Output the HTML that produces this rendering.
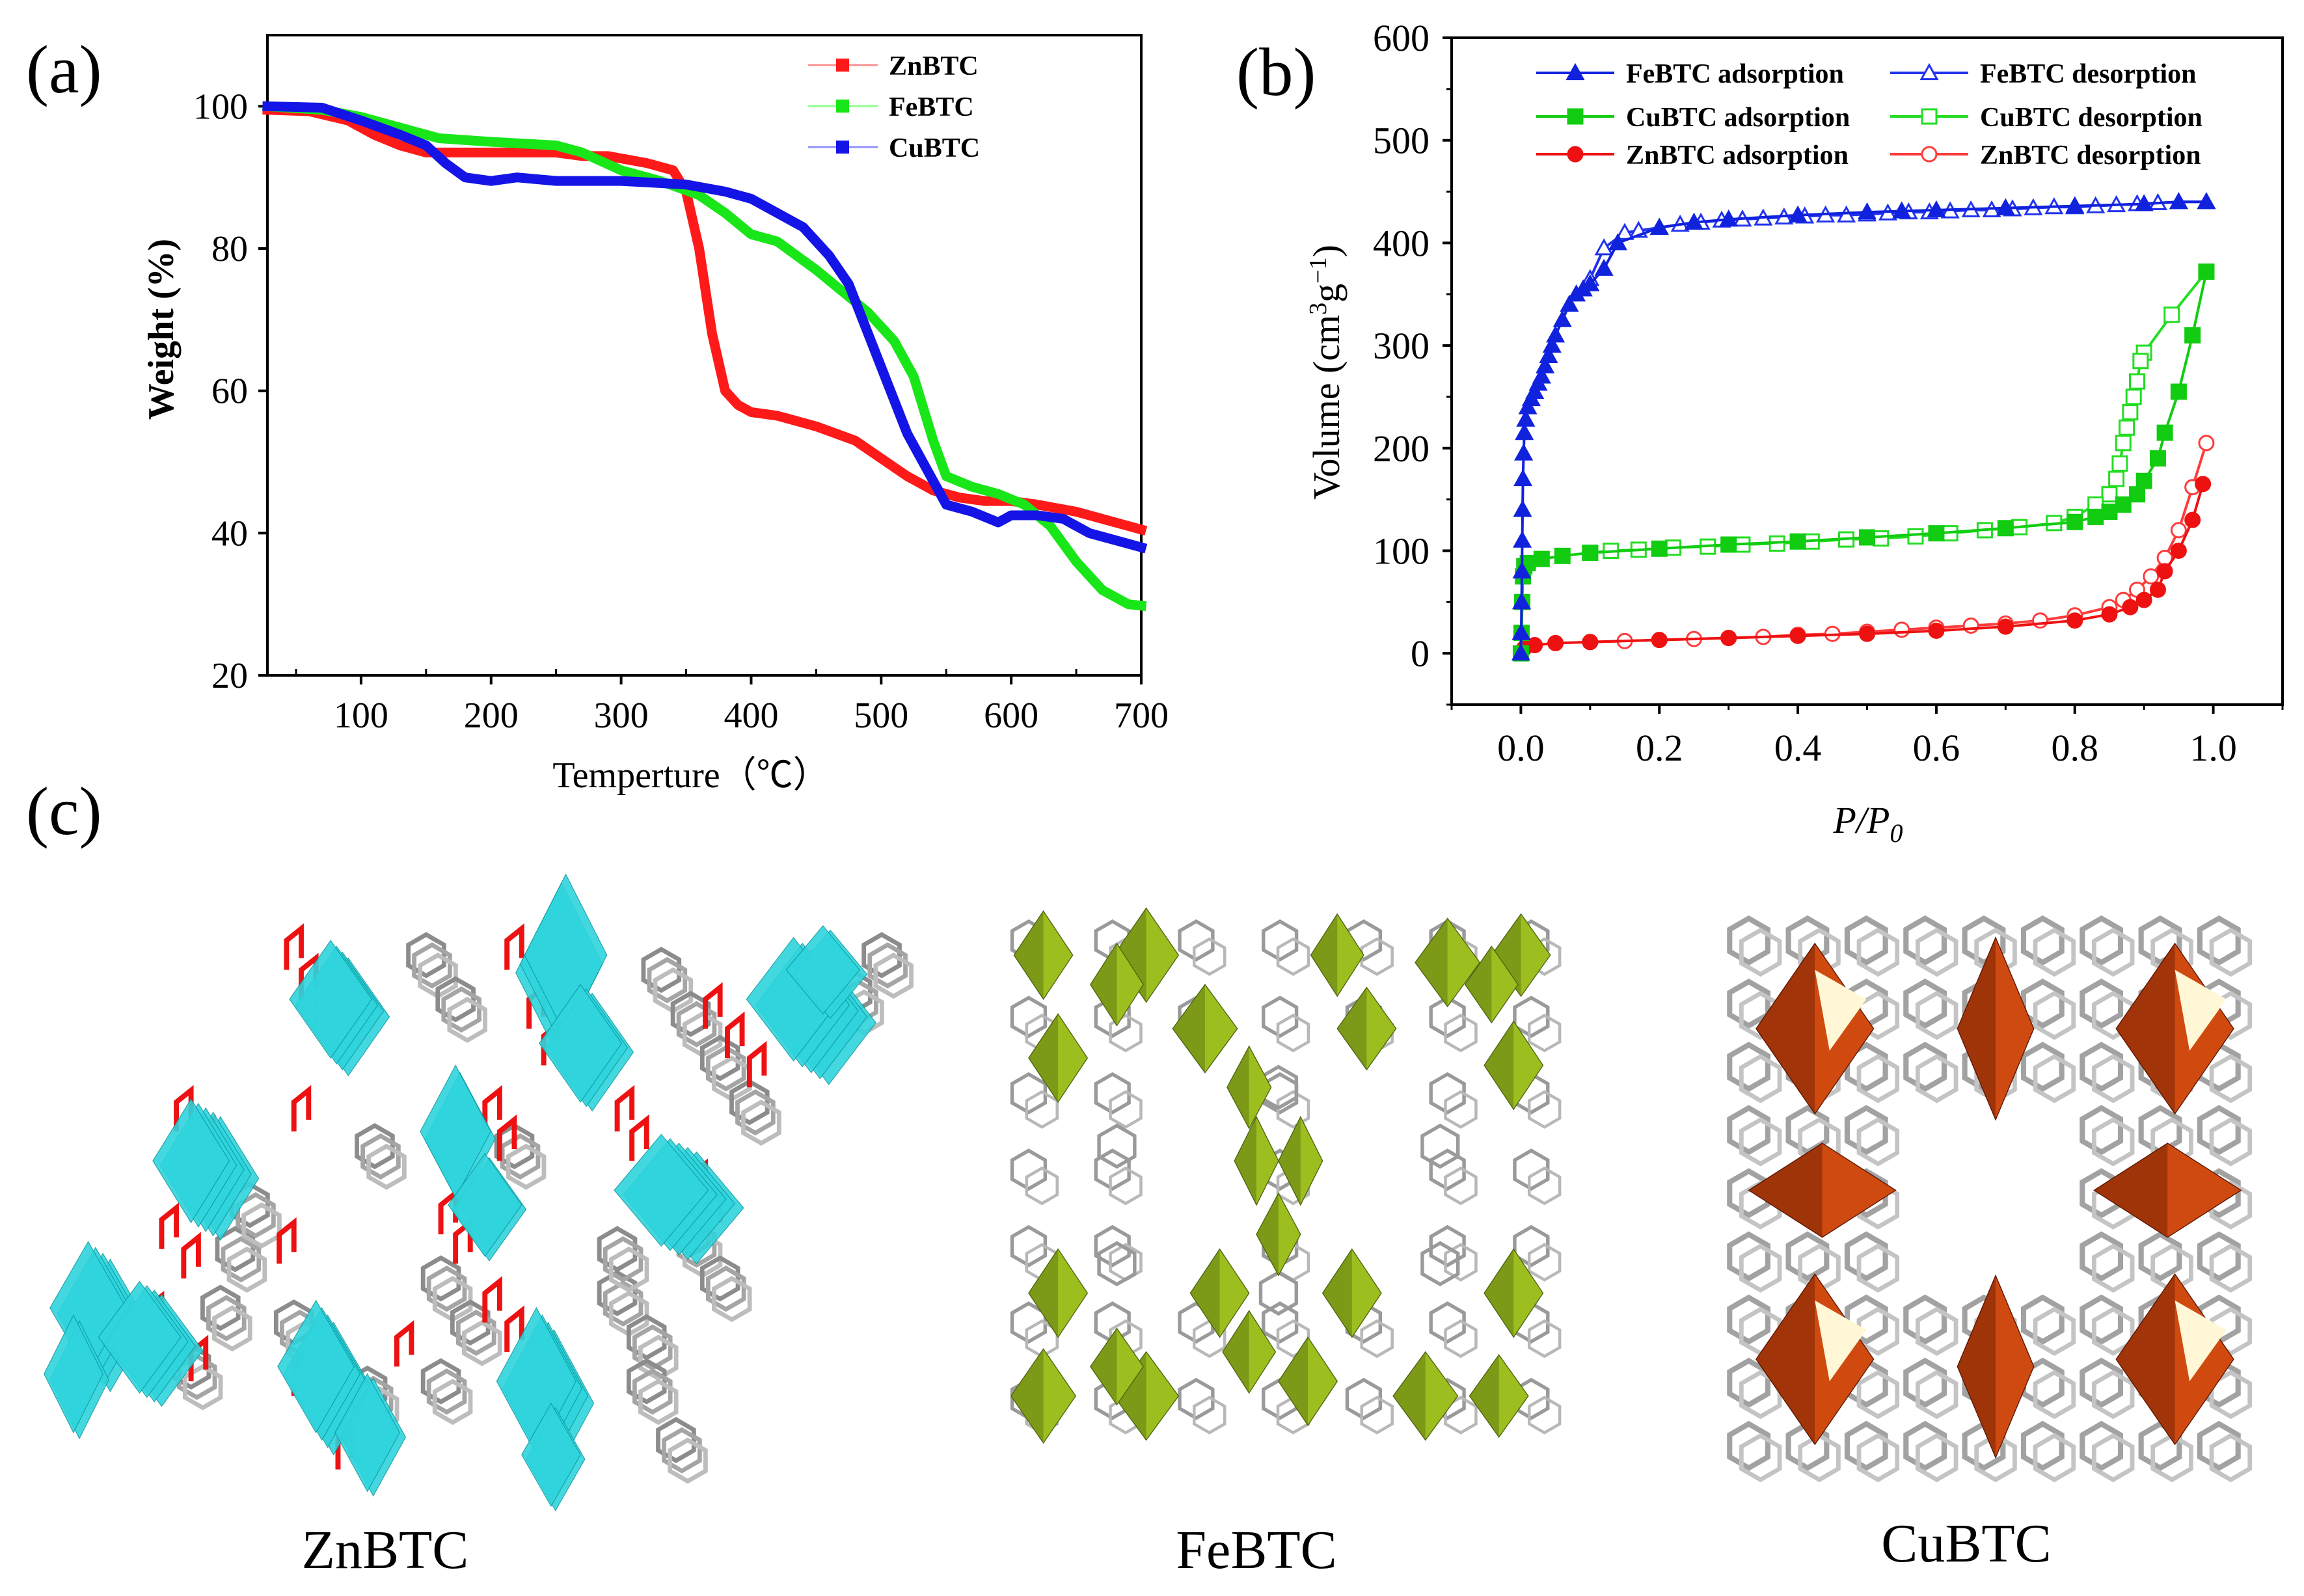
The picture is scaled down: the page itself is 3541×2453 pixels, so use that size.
<!DOCTYPE html>
<html><head><meta charset="utf-8">
<style>
html,body{margin:0;padding:0;background:#fff;}
svg{display:block;}
text{font-family:"Liberation Serif",serif;}
</style></head>
<body>
<svg id="fig" width="3541" height="2453" viewBox="0 0 3541 2453" xmlns="http://www.w3.org/2000/svg">
<rect width="3541" height="2453" fill="#fff"/>
<text x="40" y="142" font-size="105">(a)</text>
<text x="1900" y="146" font-size="105">(b)</text>
<text x="40" y="1282" font-size="105">(c)</text>
<g id="chartA"></g>
<g id="chartB"></g>
<g id="structs" transform="scale(2.2585)"></g>
<text x="592" y="2410" font-size="84" text-anchor="middle">ZnBTC</text>
<text x="1931" y="2410" font-size="84" text-anchor="middle">FeBTC</text>
<text x="3022" y="2400" font-size="84" text-anchor="middle">CuBTC</text>
</svg>
<script>
// ---------- Panel (a) data ----------
const znT = [28,60,90,110,130,150,170,200,250,270,290,320,340,350,360,370,380,390,400,420,450,480,500,520,540,560,580,600,620,650,680,700];
const znW = [99.5,99.3,98,96,94.5,93.5,93.5,93.5,93.5,93,93,92,91,88,80,68,60,58,57,56.5,55,53,50.5,48,46,45,44.5,44.5,44,43,41.5,40.5];
const feT = [28,70,100,130,160,200,250,270,300,330,360,380,400,420,450,470,490,510,525,540,550,570,590,610,630,650,670,690,700];
const feW = [100,99.5,98.5,97,95.5,95,94.5,93.5,91,89.5,87.5,85,82,81,77,74,71,67,62,53,48,46.5,45.5,44,41,36,32,30,29.8];
const cuT = [28,70,100,130,150,165,180,200,220,250,300,350,380,400,420,440,460,475,490,505,520,535,550,570,590,600,620,640,660,680,700];
const cuW = [100,99.8,98,96,94.5,92,90,89.5,90,89.5,89.5,89,88,87,85,83,79,75,68,61,54,49,44,43,41.5,42.5,42.5,42,40,39,38];
const aXTicks = [100,200,300,400,500,600,700];
const aYTicks = [20,40,60,80,100];
const aLegend = ["ZnBTC","FeBTC","CuBTC"];

// ---------- Panel (b) data ----------
const feAdsX = [0,0.0005,0.001,0.0015,0.002,0.0025,0.003,0.004,0.005,0.007,0.01,0.015,0.02,0.025,0.03,0.035,0.04,0.045,0.05,0.06,0.07,0.08,0.09,0.1,0.12,0.14,0.2,0.25,0.3,0.4,0.5,0.55,0.6,0.7,0.8,0.9,0.95,0.99];
const feAdsY = [0,20,50,80,110,140,170,195,215,228,240,248,255,263,270,280,290,300,310,325,340,350,355,360,375,400,415,420,423,427,430,431,432,434,436,438,440,440];
const feDesX = [0.99,0.95,0.92,0.89,0.86,0.83,0.8,0.77,0.74,0.71,0.68,0.65,0.62,0.59,0.56,0.53,0.5,0.47,0.44,0.41,0.38,0.35,0.32,0.29,0.26,0.23,0.2,0.17,0.15,0.12,0.1];
const feDesY = [440,440,439,438,437,436,435,435,434,433,432,432,431,430,430,429,428,427,427,426,425,424,423,422,420,418,415,412,410,395,365];
const cuAdsX = [0,0.001,0.002,0.003,0.005,0.01,0.03,0.06,0.1,0.2,0.3,0.4,0.5,0.6,0.7,0.8,0.83,0.85,0.87,0.89,0.9,0.92,0.93,0.95,0.97,0.99];
const cuAdsY = [0,20,50,75,85,88,92,95,98,102,106,109,113,117,122,128,133,138,145,155,168,190,215,255,310,372];
const cuDesX = [0.99,0.94,0.9,0.895,0.89,0.885,0.88,0.875,0.87,0.865,0.86,0.85,0.83,0.8,0.77,0.72,0.67,0.62,0.57,0.52,0.47,0.42,0.37,0.32,0.27,0.22,0.17,0.13,0.1];
const cuDesY = [372,330,293,285,265,250,235,220,205,185,170,155,145,133,127,123,120,117,114,112,111,109,107,106,104,103,101,100,98];
const znAdsX = [0,0.005,0.02,0.05,0.1,0.2,0.3,0.4,0.5,0.6,0.7,0.8,0.85,0.88,0.9,0.92,0.93,0.95,0.97,0.985];
const znAdsY = [0,5,8,10,11,13,15,17,19,22,26,32,38,45,52,62,80,100,130,165];
const znDesX = [0.99,0.97,0.95,0.93,0.91,0.89,0.87,0.85,0.8,0.75,0.7,0.65,0.6,0.55,0.5,0.45,0.4,0.35,0.3,0.25,0.2,0.15,0.1];
const znDesY = [205,162,120,93,75,62,52,45,37,32,29,27,25,23,21,19,18,16,15,14,13,12,11];
const bXTicks = [0.0,0.2,0.4,0.6,0.8,1.0];
const bYTicks = [0,100,200,300,400,500,600];

const NS = "http://www.w3.org/2000/svg";
function mk(tag, attrs, parent){const e=document.createElementNS(NS,tag);for(const k in attrs)e.setAttribute(k,attrs[k]);parent.appendChild(e);return e;}
function lin(d0,d1,r0,r1){return v=>r0+(v-d0)*(r1-r0)/(d1-d0);}

// ---------- Draw (a) ----------
(function(){
const g=document.getElementById('chartA');
const L=411,R=1754,T=54,B=1038;
const x=lin(28,700,L,R), y=lin(20,110,B,T);
let e=mk('rect',{x:L,y:T,width:R-L,height:B-T,fill:'none',stroke:'#000','stroke-width':4},g);

aXTicks.forEach(t=>{
  mk('line',{x1:x(t),x2:x(t),y1:B,y2:B+14,stroke:'#000','stroke-width':4},g);
  mk('line',{x1:x(t-50),x2:x(t-50),y1:B,y2:B-10,stroke:'#000','stroke-width':3},g);
  const tx=mk('text',{x:x(t),y:B+80,'font-size':56,'text-anchor':'middle'},g);tx.textContent=t;
  
});
aYTicks.forEach(v=>{
  mk('line',{x1:L-14,x2:L,y1:y(v),y2:y(v),stroke:'#000','stroke-width':4},g);
  const tx=mk('text',{x:L-30,y:y(v)+19,'font-size':56,'text-anchor':'end'},g);tx.textContent=v;
  
});
let t=mk('text',{x:1062,y:1210,'font-size':56,'text-anchor':'middle'},g);t.textContent='Temperture（℃）';

t=mk('text',{x:0,y:0,'font-size':56,'font-weight':'bold','text-anchor':'middle',transform:'translate(266,506) rotate(-90)'},g);t.textContent='Weight (%)';

const series=[[znT,znW,'#ff1a1a','znbtc-curve'],[feT,feW,'#19e619','febtc-curve'],[cuT,cuW,'#1414e6','cubtc-curve']];
series.forEach(s=>{
  const p=mk('polyline',{points:s[0].map((v,i)=>x(v)+','+y(s[1][i])).join(' '),fill:'none',stroke:s[2],'stroke-width':15,'stroke-linejoin':'round','stroke-linecap':'square'},g);
  
});
const lc=['#ff1a1a','#19e619','#1414e6'], ll=['#ff9090','#90ff90','#9090ff'], ly=[100,163,226];
aLegend.forEach((n,i)=>{
  const lg=mk('g',{},g);
  mk('line',{x1:1242,x2:1349,y1:ly[i],y2:ly[i],stroke:ll[i],'stroke-width':3},lg);
  mk('rect',{x:1285,y:ly[i]-10,width:20,height:20,fill:lc[i]},lg);
  const tt=mk('text',{x:1366,y:ly[i]+15,'font-size':42,'font-weight':'bold'},lg);tt.textContent=n;
});
})();

// ---------- Draw (b) ----------
(function(){
const g=document.getElementById('chartB');
const L=2231,R=3508,T=58,B=1083;
const x=lin(-0.1,1.1,L,R), y=lin(-50,600,B,T);
let e=mk('rect',{x:L,y:T,width:R-L,height:B-T,fill:'none',stroke:'#000','stroke-width':4},g);

bXTicks.forEach(v=>{
  mk('line',{x1:x(v),x2:x(v),y1:B,y2:B+14,stroke:'#000','stroke-width':4},g);
  mk('line',{x1:x(v-0.1),x2:x(v-0.1),y1:B,y2:B+8,stroke:'#000','stroke-width':3},g);
  const tx=mk('text',{x:x(v),y:B+86,'font-size':58,'text-anchor':'middle'},g);tx.textContent=v.toFixed(1);
  
});
mk('line',{x1:x(1.1),x2:x(1.1),y1:B,y2:B+8,stroke:'#000','stroke-width':3},g);
bYTicks.forEach(v=>{
  mk('line',{x1:L-14,x2:L,y1:y(v),y2:y(v),stroke:'#000','stroke-width':4},g);
  mk('line',{x1:L-8,x2:L,y1:y(v-50),y2:y(v-50),stroke:'#000','stroke-width':3},g);
  const tx=mk('text',{x:L-34,y:y(v)+20,'font-size':58,'text-anchor':'end'},g);tx.textContent=v;
  
});
let t=mk('text',{x:2871,y:1280,'font-size':58,'font-style':'italic','text-anchor':'middle'},g);
t.innerHTML='P/P<tspan font-size="40" dy="14">0</tspan>';

t=mk('text',{x:0,y:0,'font-size':58,'text-anchor':'middle',transform:'translate(2058,572) rotate(-90)'},g);
t.innerHTML='Volume (cm<tspan font-size="38" dy="-20">3</tspan><tspan dy="20">g</tspan><tspan font-size="38" dy="-20">−1</tspan><tspan dy="20">)</tspan>';


function marker(par,shape,cx,cy,col,filled){
  const f=filled?col:'#fff', s=12;
  if(shape==='tri') mk('polygon',{points:`${cx},${cy-s} ${cx-s},${cy+s*0.8} ${cx+s},${cy+s*0.8}`,fill:f,stroke:col,'stroke-width':3},par);
  else if(shape==='sq') mk('rect',{x:cx-s+1,y:cy-s+1,width:2*s-2,height:2*s-2,fill:f,stroke:col,'stroke-width':3},par);
  else mk('circle',{cx:cx,cy:cy,r:s-1,fill:f,stroke:col,'stroke-width':3},par);
}
const ser=[
 [znDesX,znDesY,'#ff3b3b','circ',false,'znbtc-desorption'],
 [znAdsX,znAdsY,'#ee1111','circ',true,'znbtc-adsorption'],
 [cuDesX,cuDesY,'#22dd22','sq',false,'cubtc-desorption'],
 [cuAdsX,cuAdsY,'#11cc11','sq',true,'cubtc-adsorption'],
 [feDesX,feDesY,'#2233ee','tri',false,'febtc-desorption'],
 [feAdsX,feAdsY,'#1122dd','tri',true,'febtc-adsorption']];
ser.forEach(s=>{
  const sg=mk('g',{},g);
  mk('polyline',{points:s[0].map((v,i)=>x(v)+','+y(s[1][i])).join(' '),fill:'none',stroke:s[2],'stroke-width':4},sg);
  s[0].forEach((v,i)=>marker(sg,s[3],x(v),y(s[1][i]),s[2],s[4]));
});
const leg=[['FeBTC adsorption','#1122dd','tri',true,2361,112],['FeBTC  desorption','#2233ee','tri',false,2905,112],
 ['CuBTC adsorption','#11cc11','sq',true,2361,179],['CuBTC desorption','#22dd22','sq',false,2905,179],
 ['ZnBTC adsorption','#ee1111','circ',true,2361,237],['ZnBTC desorption','#ff3b3b','circ',false,2905,237]];
leg.forEach(l=>{
  const lg=mk('g',{},g);
  mk('line',{x1:l[4],x2:l[4]+120,y1:l[5],y2:l[5],stroke:l[1],'stroke-width':4},lg);
  marker(lg,l[2],l[4]+60,l[5],l[1],l[3]);
  const tt=mk('text',{x:l[4]+138,y:l[5]+15,'font-size':42,'font-weight':'bold'},lg);tt.textContent=l[0];
});
})();

// ---------- (c) decorative structures (main-view units, scaled) ----------
(function(){
const g=document.getElementById('structs');
function hex1(par,cx,cy,r,col,w){let p=[];for(let k=0;k<6;k++){const a=Math.PI/3*k+Math.PI/6;p.push((cx+r*Math.cos(a))+','+(cy+r*Math.sin(a)));}mk('polygon',{points:p.join(' '),fill:'none',stroke:col,'stroke-width':w},par);}
function hexStack(par,cx,cy,r,w){hex1(par,cx,cy,r,'#8c8c8c',w);hex1(par,cx+4,cy+7,r,'#a5a5a5',w);hex1(par,cx+8,cy+14,r,'#bdbdbd',w);}
function dia(par,cx,cy,w,h,fill,dark){mk('polygon',{points:`${cx},${cy-h} ${cx+w},${cy} ${cx},${cy+h} ${cx-w},${cy}`,fill:fill,stroke:dark,'stroke-width':0.6},par);mk('polygon',{points:`${cx},${cy-h} ${cx},${cy+h} ${cx-w},${cy}`,fill:dark,opacity:0.4},par);}
function slab(par,cx,cy,w,h,fill,n,dx,dy){for(let k=n-1;k>=0;k--)mk('polygon',{points:`${cx+k*dx},${cy+k*dy-h} ${cx+k*dx+w},${cy+k*dy} ${cx+k*dx},${cy+k*dy+h} ${cx+k*dx-w},${cy+k*dy}`,fill:fill,stroke:'#0b9aa0','stroke-width':0.5,opacity:0.9},par);}
// Zn
const zn=mk('g',{},g);
const zhex=[[290,650],[310,680],[450,660],[470,690],[600,650],[580,675],[490,720],[510,750],[255,780],[350,780],[470,840],[490,870],[420,880],[440,910],[160,850],[300,870],[320,900],[440,940],[200,900],[150,890],[250,945],[420,850],[170,820],[130,930],[300,940],[460,980]];
zhex.forEach(p=>hexStack(zn,p[0],p[1],14,3));
const zred=[[195,660],[205,680],[215,700],[345,660],[360,700],[370,725],[480,700],[495,720],[510,740],[120,770],[135,790],[200,770],[330,770],[340,790],[420,770],[430,790],[110,850],[125,870],[190,860],[300,840],[310,860],[470,820],[480,840],[100,910],[200,950],[270,930],[330,900],[345,920],[230,1000],[130,940]];
zred.forEach(p=>{mk('polyline',{points:`${p[0]},${p[1]} ${p[0]},${p[1]-20} ${p[0]+10},${p[1]-28} ${p[0]+10},${p[1]-8}`,fill:'none',stroke:'#ee1111','stroke-width':3.5},zn);});
const zcy=[[225,680,28,40,4,4,4],[385,650,28,55,3,-3,6],[395,710,28,40,3,4,3],[540,680,32,42,5,6,4],[560,660,25,30,2,5,3],[130,790,26,42,5,5,3],[310,770,24,45,2,3,5],[330,820,25,35,2,3,3],[450,810,32,38,5,6,3],[60,890,26,45,4,5,4],[95,910,28,38,4,5,3],[215,930,26,45,4,4,5],[365,940,27,50,4,4,5],[50,935,20,40,2,4,4],[250,975,22,40,2,4,3],[375,990,20,35,2,3,3]];
zcy.forEach(p=>slab(zn,p[0],p[1],p[2],p[3],'#2fd4dc',p[4],p[5],p[6]));
// Fe
const fe=mk('g',{},g);
for(let i=0;i<7;i++){for(let j=0;j<7;j++){const cx=700+i*57,cy=640+j*52;const inner=(i>=2&&i<=4&&j>=2&&j<=4&&!(i===3));if(inner)continue;hex1(fe,cx,cy,13,'#9a9a9a',2.4);hex1(fe,cx+9,cy+11,12,'#b8b8b8',2);}}
[[760,780],[980,780],[760,860],[980,860],[870,740],[870,880]].forEach(p=>{hex1(fe,p[0],p[1],14,'#9a9a9a',2.4);});
const fol=[[710,650,20,30],[780,650,22,32],[760,670,18,28],[910,650,18,28],[985,655,22,30],[1035,650,20,28],[1015,670,18,26],[820,700,22,30],[930,700,20,28],[720,720,20,30],[1030,725,20,30],[855,790,15,30],[885,790,15,30],[850,740,15,28],[720,880,20,30],[1030,880,20,30],[830,880,20,30],[920,880,20,30],[850,920,18,28],[710,950,22,32],[780,950,22,30],[760,930,18,26],[970,950,22,30],[1020,950,20,28],[890,940,20,30],[870,840,15,28]];
fol.forEach(p=>dia(fe,p[0],p[1],p[2],p[3],'#9cbf1f','#4d6410'));
// Cu
const cu=mk('g',{},g);
for(let i=0;i<9;i++){for(let j=0;j<9;j++){const cx=1190+i*40,cy=640+j*43;const dx=cx-1355,dy=cy-812;if(Math.abs(dx)<70&&Math.abs(dy)<60)continue;hex1(cu,cx,cy,15,'#a2a2a2',3.6);hex1(cu,cx+8,cy+8,15,'#c4c4c4',3);}}
const cor=[[1235,700,40,58],[1480,700,40,58],[1235,925,40,58],[1480,925,40,58]];
cor.forEach(p=>{dia(cu,p[0],p[1],p[2],p[3],'#d04a10','#5a1400');mk('polygon',{points:`${p[0]},${p[1]-40} ${p[0]+35},${p[1]-20} ${p[0]+10},${p[1]+15}`,fill:'#fff7d5'},cu);});
dia(cu,1358,700,26,62,'#cf4a10','#5a1400');
dia(cu,1358,930,26,62,'#cf4a10','#5a1400');
dia(cu,1240,810,50,32,'#cf4a10','#5a1400');
dia(cu,1475,810,50,32,'#cf4a10','#5a1400');
})();
</script>
</body></html>
